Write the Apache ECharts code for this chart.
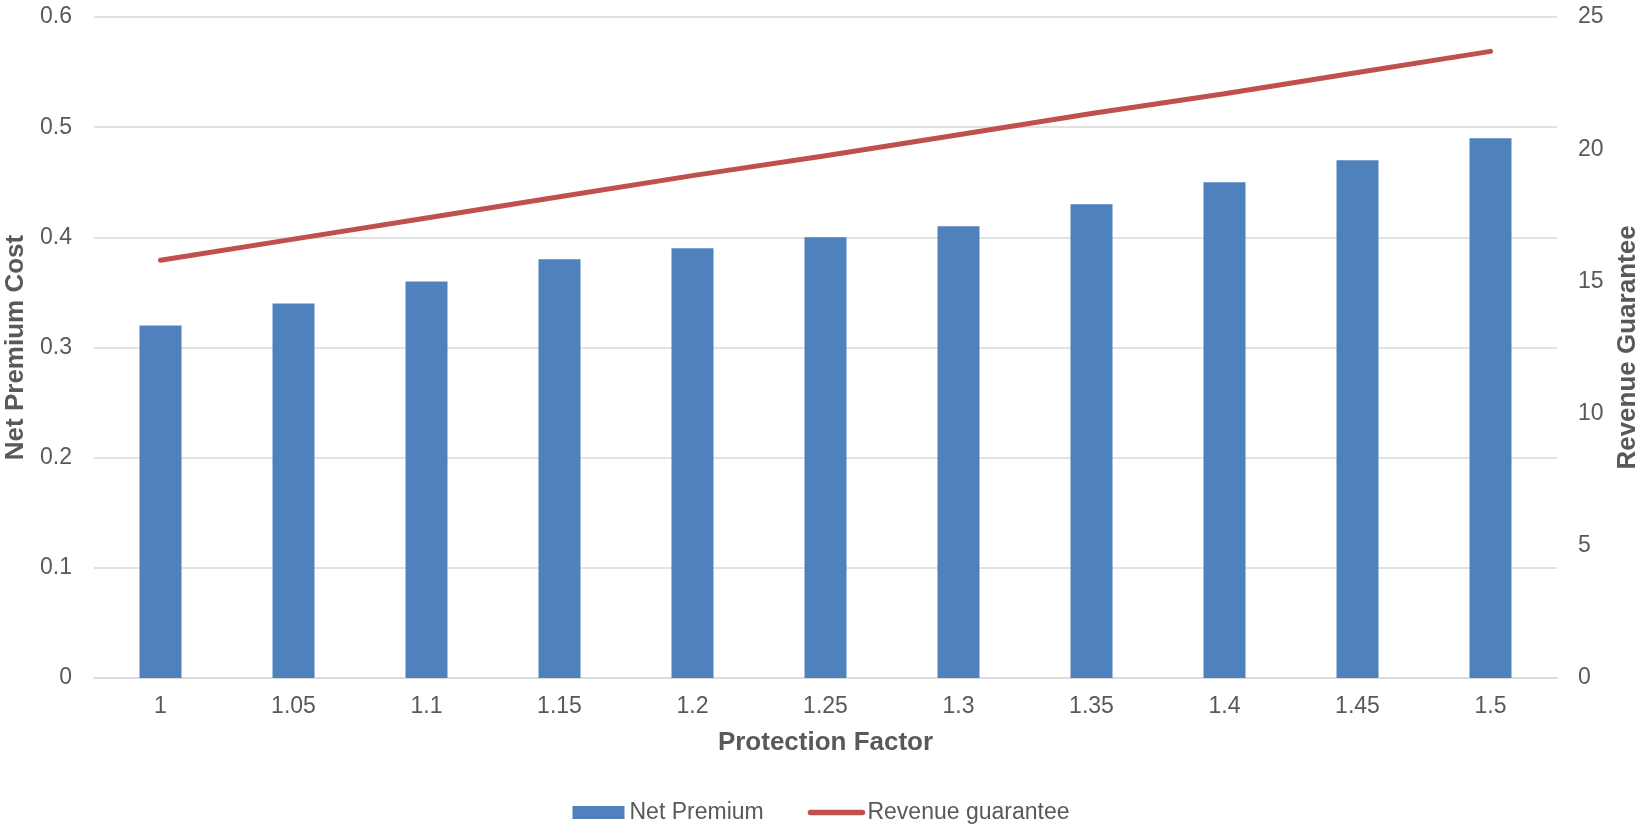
<!DOCTYPE html>
<html>
<head>
<meta charset="utf-8">
<script src="https://cdn.jsdelivr.net/npm/echarts@6/dist/echarts.min.js"></script>
<style>
html,body{margin:0;padding:0;background:#fff;overflow:hidden;}
#chart{width:1642px;height:825px;}
</style>
</head>
<body>
<div id="chart"></div>
<script>
var categories = ['1','1.05','1.1','1.15','1.2','1.25','1.3','1.35','1.4','1.45','1.5'];
var netPremium = [0.32,0.34,0.36,0.38,0.39,0.40,0.41,0.43,0.45,0.47,0.49];
var revenueGuarantee = [15.8,16.6,17.4,18.2,19.0,19.75,20.55,21.35,22.1,22.9,23.7];
var leftTicks = [0,0.1,0.2,0.3,0.4,0.5,0.6];
var rightTicks = [0,5,10,15,20,25];

var font = 'Liberation Sans, Arial, sans-serif';
var txt = '#595959';
var chart = echarts.init(document.getElementById('chart'));
chart.setOption({
  animation: false,
  textStyle: {fontFamily: font},
  grid: {left: 94, right: 85, top: 17, bottom: 147, containLabel: false, outerBoundsMode: 'none'},
  legend: {
    bottom: 1, left: 'center', padding: 0,
    itemGap: 44, itemWidth: 52, itemHeight: 13,
    textStyle: {color: txt, fontSize: 23, fontFamily: font},
    data: [
      {name: 'Net Premium', icon: 'rect'},
      {name: 'Revenue guarantee', itemStyle: {opacity: 0, color: 'rgba(0,0,0,0)', borderWidth: 0},
       lineStyle: {color: '#C0504D', width: 5.5, cap: 'round'}}
    ]
  },
  xAxis: {
    type: 'category', data: categories,
    name: 'Protection Factor', nameLocation: 'middle', nameGap: 52,
    nameTextStyle: {color: txt, fontSize: 26, fontWeight: 'bold', fontFamily: font},
    axisLine: {lineStyle: {color: '#D9D9D9', width: 1.5}},
    axisTick: {show: false},
    axisLabel: {color: txt, fontSize: 23, margin: 17, fontFamily: font}
  },
  yAxis: [{
    type: 'value', min: 0, max: 0.6, interval: 0.1,
    name: 'Net Premium Cost', nameLocation: 'middle', nameGap: 62, nameRotate: 90,
    nameTextStyle: {color: txt, fontSize: 26, fontWeight: 'bold', fontFamily: font},
    axisLine: {show: false}, axisTick: {show: false},
    axisLabel: {color: txt, fontSize: 23, margin: 22, fontFamily: font,
      formatter: function(v){ return leftTicks.indexOf(Math.round(v*10)/10) >= 0 ? String(Math.round(v*10)/10) : ''; }},
    splitLine: {lineStyle: {color: '#D9D9D9', width: 1.5}}
  }, {
    type: 'value', min: 0, max: 25, interval: 5,
    name: 'Revenue Guarantee', nameLocation: 'middle', nameGap: 58, nameRotate: 90,
    nameTextStyle: {color: txt, fontSize: 26, fontWeight: 'bold', fontFamily: font},
    axisLine: {show: false}, axisTick: {show: false},
    axisLabel: {color: txt, fontSize: 23, margin: 21, fontFamily: font,
      formatter: function(v){ return rightTicks.indexOf(v) >= 0 ? String(v) : ''; }},
    splitLine: {show: false}
  }],
  series: [{
    name: 'Net Premium', type: 'bar', data: netPremium, yAxisIndex: 0,
    barWidth: 42, itemStyle: {color: '#4F81BD'}
  }, {
    name: 'Revenue guarantee', type: 'line', data: revenueGuarantee, yAxisIndex: 1,
    symbol: 'none', showSymbol: false,
    lineStyle: {color: '#C0504D', width: 5, cap: 'round'},
    itemStyle: {color: '#C0504D'}
  }]
});
</script>
</body>
</html>
